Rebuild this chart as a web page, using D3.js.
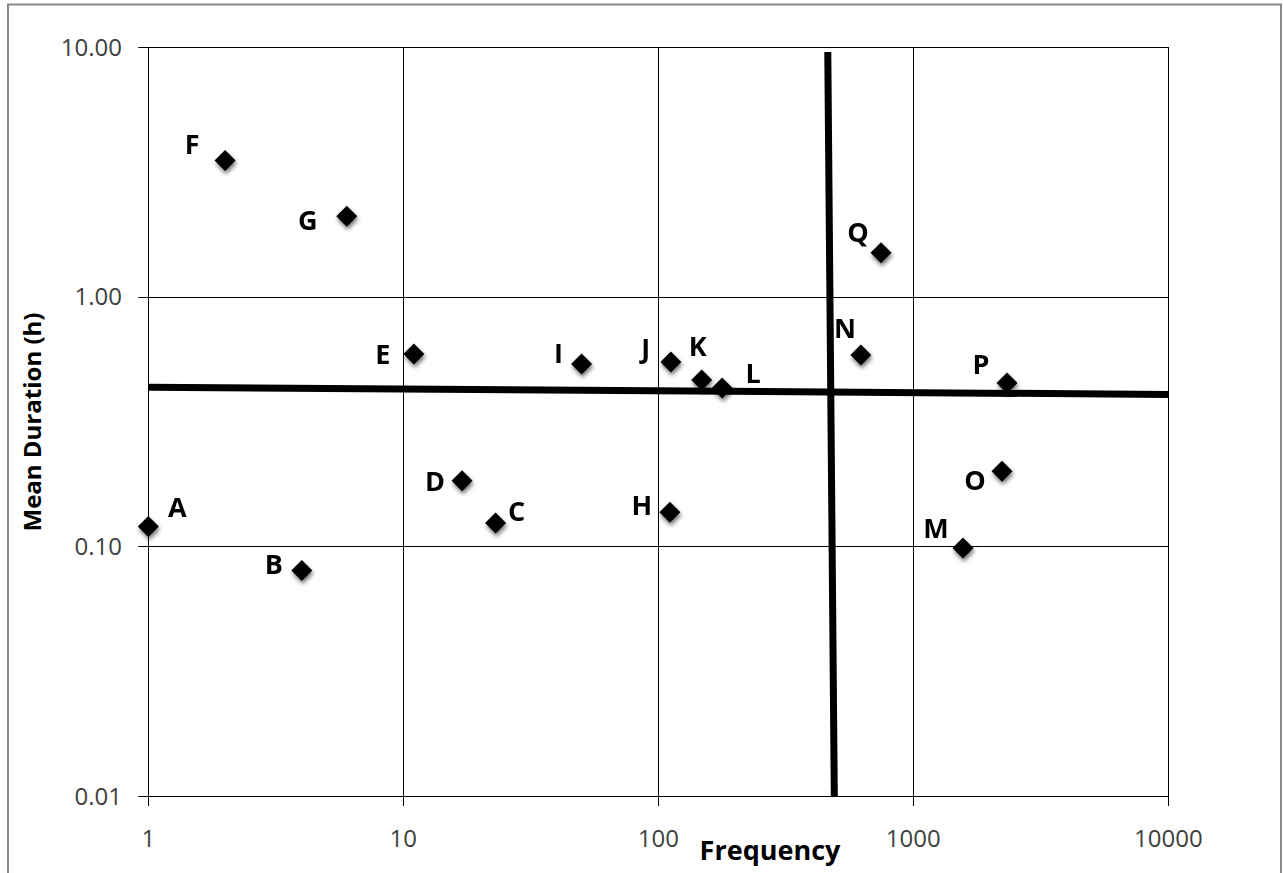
<!DOCTYPE html>
<html>
<head>
<meta charset="utf-8">
<script src="https://cdn.jsdelivr.net/npm/d3@7"></script>
<style>
    body { margin: 0; background: #fff; }
    text { font-family: "Open Sans", "Liberation Sans", sans-serif; }
</style>
</head>
<body>
<script>
// point names, frequency (x) and mean duration in hours (y)
const names = ["A", "B", "C", "D", "E", "F", "G", "H", "I", "J", "K", "L", "M", "N", "O", "P", "Q"];
const frequency = [1, 4, 23, 17, 11, 2, 6, 111, 50, 112, 148, 178, 1566, 623, 2228, 2331, 747];
const duration = [0.12, 0.08, 0.124, 0.183, 0.589, 3.51, 2.10, 0.137, 0.537, 0.547, 0.464, 0.431, 0.0985, 0.584, 0.20, 0.451, 1.5];

// tick labels
const xTicks = [1, 10, 100, 1000, 10000];
const xTickLabels = ["1", "10", "100", "1000", "10000"];
const yTicks = [0.01, 0.1, 1, 10];
const yTickLabels = ["0.01", "0.10", "1.00", "10.00"];

// the two thick threshold lines, in data units
const hLineX = [1, 10000];
const hLineY = [0.434, 0.4058];
const vLineX = [462, 490];
const vLineY = [9.55, 0.01];

// label offsets from each marker (px), not data
const labelDx = [29, -28, 21, -27, -31, -33, -39, -28, -23, -25, -4, 31, -27, -16, -27, -26, -23];
const labelDy = [-20, -7, -12, 0, 0, -17, 4, -7, -11, -14, -34, -15, -20, -27, 9, -19, -21];

const width = 1283,
    height = 873,
    margin = {left: 148.3, right: 1168.3, top: 47, bottom: 796};

const svg = d3.select("body")
    .append("svg")
    .attr("width", width)
    .attr("height", height);

const defs = svg.append("defs");
const shadow = defs.append("filter")
    .attr("id", "shadow")
    .attr("x", "-50%").attr("y", "-50%")
    .attr("width", "200%").attr("height", "200%");
shadow.append("feDropShadow")
    .attr("dx", 1)
    .attr("dy", 3)
    .attr("stdDeviation", 2.3)
    .attr("flood-color", "#000")
    .attr("flood-opacity", 0.55);

// outer chart frame
svg.append("rect")
    .attr("x", 8)
    .attr("y", 4.5)
    .attr("width", 1273)
    .attr("height", 900)
    .attr("fill", "#fff")
    .attr("stroke", "#8a8a8a")
    .attr("stroke-width", 2);

const x = d3.scaleLog()
    .domain([1, 10000])
    .range([margin.left, margin.right]);

const y = d3.scaleLog()
    .domain([0.01, 10])
    .range([margin.bottom, margin.top]);

// gridlines
const grid = svg.append("g").attr("stroke", "#000").attr("stroke-width", 1);
grid.selectAll(".gx")
    .data(xTicks)
    .enter().append("line")
    .attr("x1", d => Math.round(x(d)) + 0.5)
    .attr("x2", d => Math.round(x(d)) + 0.5)
    .attr("y1", margin.top)
    .attr("y2", margin.bottom + 10);
grid.selectAll(".gy")
    .data(yTicks)
    .enter().append("line")
    .attr("y1", d => Math.round(y(d)) + 0.5)
    .attr("y2", d => Math.round(y(d)) + 0.5)
    .attr("x1", margin.left - 10)
    .attr("x2", margin.right);

// tick labels
svg.selectAll(".xl")
    .data(xTicks)
    .enter().append("text")
    .attr("x", d => x(d))
    .attr("y", 847)
    .attr("text-anchor", "middle")
    .attr("font-size", 24)
    .attr("fill", "#404040")
    .text((d, i) => xTickLabels[i]);

svg.selectAll(".yl")
    .data(yTicks)
    .enter().append("text")
    .attr("x", 122)
    .attr("y", d => y(d) + 8.5)
    .attr("text-anchor", "end")
    .attr("font-size", 24)
    .attr("fill", "#404040")
    .text((d, i) => yTickLabels[i]);

// axis titles
svg.append("text")
    .attr("transform", "translate(41,422) rotate(-90)")
    .attr("text-anchor", "middle")
    .attr("font-size", 24)
    .attr("font-weight", "bold")
    .attr("fill", "#000")
    .text("Mean Duration (h)");

svg.append("text")
    .attr("x", 770)
    .attr("y", 860)
    .attr("text-anchor", "middle")
    .attr("font-size", 27)
    .attr("font-weight", "bold")
    .attr("fill", "#000")
    .text("Frequency");

// thick threshold lines
const line = d3.line().x(d => x(d[0])).y(d => y(d[1]));
svg.append("path")
    .attr("d", line(d3.zip(hLineX, hLineY)))
    .attr("stroke", "#000")
    .attr("stroke-width", 7)
    .attr("fill", "none");
svg.append("path")
    .attr("d", line(d3.zip(vLineX, vLineY)))
    .attr("stroke", "#000")
    .attr("stroke-width", 7)
    .attr("fill", "none");

// markers
const pts = names.map((n, i) => ({name: n, fx: frequency[i], dy: duration[i], i: i}));
const r = 10.5;
svg.append("g")
    .attr("filter", "url(#shadow)")
    .selectAll("path")
    .data(pts)
    .enter().append("path")
    .attr("transform", d => "translate(" + x(d.fx) + "," + y(d.dy) + ")")
    .attr("d", "M0," + (-r) + "L" + r + ",0L0," + r + "L" + (-r) + ",0Z")
    .attr("fill", "#000");

// point labels
svg.selectAll(".pl")
    .data(pts)
    .enter().append("text")
    .attr("x", d => x(d.fx) + labelDx[d.i])
    .attr("y", d => y(d.dy) + labelDy[d.i] + 10)
    .attr("text-anchor", "middle")
    .attr("font-size", 27)
    .attr("font-weight", "bold")
    .attr("fill", "#000")
    .text(d => d.name);
</script>
</body>
</html>
